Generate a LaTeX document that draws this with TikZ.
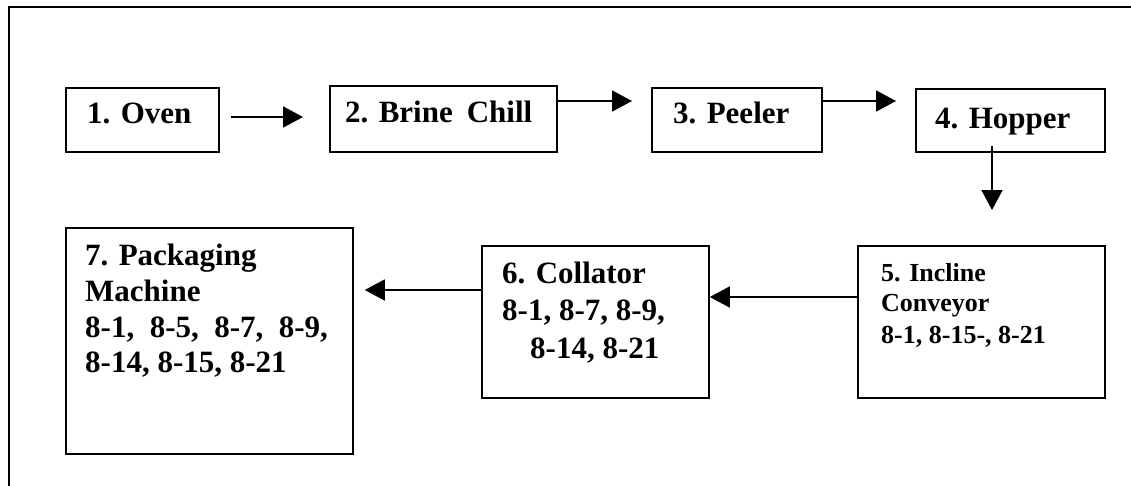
\documentclass[tikz,border=0pt]{standalone}
\usepackage{fontspec}
\setmainfont{Liberation Serif}
\usetikzlibrary{arrows.meta}
\begin{document}
\begin{tikzpicture}[x=1pt,y=-1pt,
  stage/.style={draw, line width=1.8pt, rectangle, inner sep=0pt, anchor=north west},
  lbl/.style={anchor=base west, inner sep=0pt, font=\bfseries\fontsize{31}{36}\selectfont},
  lblsmall/.style={lbl, font=\bfseries\fontsize{26}{30}\selectfont},
  flow/.style={line width=1.8pt, -{Triangle[length=20pt,width=21pt]}}]
\useasboundingbox (0,0) rectangle (1131,485);
\clip (0,0) rectangle (1131,485);
% page frame, running off the right and bottom edges
\draw[line width=2pt] (9,7) rectangle (1150,500);

% process stages
\node[stage, minimum width=153pt, minimum height=64pt] (b1) at (65,87) {};
\node[stage, minimum width=227pt, minimum height=66pt] (b2) at (329,85) {};
\node[stage, minimum width=170pt, minimum height=64pt] (b3) at (651,87) {};
\node[stage, minimum width=189pt, minimum height=63pt] (b4) at (915,88) {};
\node[stage, minimum width=247pt, minimum height=152pt] (b5) at (857,245) {};
\node[stage, minimum width=227pt, minimum height=152pt] (b6) at (481,245) {};
\node[stage, minimum width=287pt, minimum height=226pt] (b7) at (65,227) {};

% labels
\node[lbl] (t1) at (87,123) {1. Oven};
\node[lbl] (t2) at (345,122) {2. Brine\hspace{0.2em} Chill};
\node[lbl] (t3) at (673,123) {3. Peeler};
\node[lbl] (t4) at (935,128) {4. Hopper};
\node[lblsmall] (t5a) at (881,281) {5. Incline};
\node[lblsmall] (t5b) at (881,311) {Conveyor};
\node[lblsmall] (t5c) at (881,343) {8-1, 8-15-, 8-21};
\node[lbl] (t6a) at (502,283) {6. Collator};
\node[lbl] (t6b) at (502,320) {8-1, 8-7, 8-9,};
\node[lbl] (t6c) at (530,358) {8-14, 8-21};
\node[lbl] (t7a) at (85,265) {7. Packaging};
\node[lbl] (t7b) at (85,301) {Machine};
\node[lbl] (t7c) at (85,337) {8-1,\hspace{0.25em} 8-5,\hspace{0.25em} 8-7,\hspace{0.25em} 8-9,};
\node[lbl] (t7d) at (85,372) {8-14, 8-15, 8-21};

% flow connectors
\draw[flow, shorten <=11pt, shorten >=26pt] (b1.east |- 0,117) -- (b2.west |- 0,117);
\draw[flow, shorten >=19pt] (b2.east |- 0,101) -- (b3.west |- 0,101);
\draw[flow, shorten >=19pt] (b3.east |- 0,101) -- (b4.west |- 0,101);
\draw[flow, shorten <=-7pt, shorten >=35pt] (b4.south -| 992,0) -- (b5.north -| 992,0);
\draw[flow] (b5.west |- 0,297) -- (b6.east |- 0,297);
\draw[flow, shorten >=11pt] (b6.west |- 0,290) -- (b7.east |- 0,290);
\end{tikzpicture}
\end{document}
